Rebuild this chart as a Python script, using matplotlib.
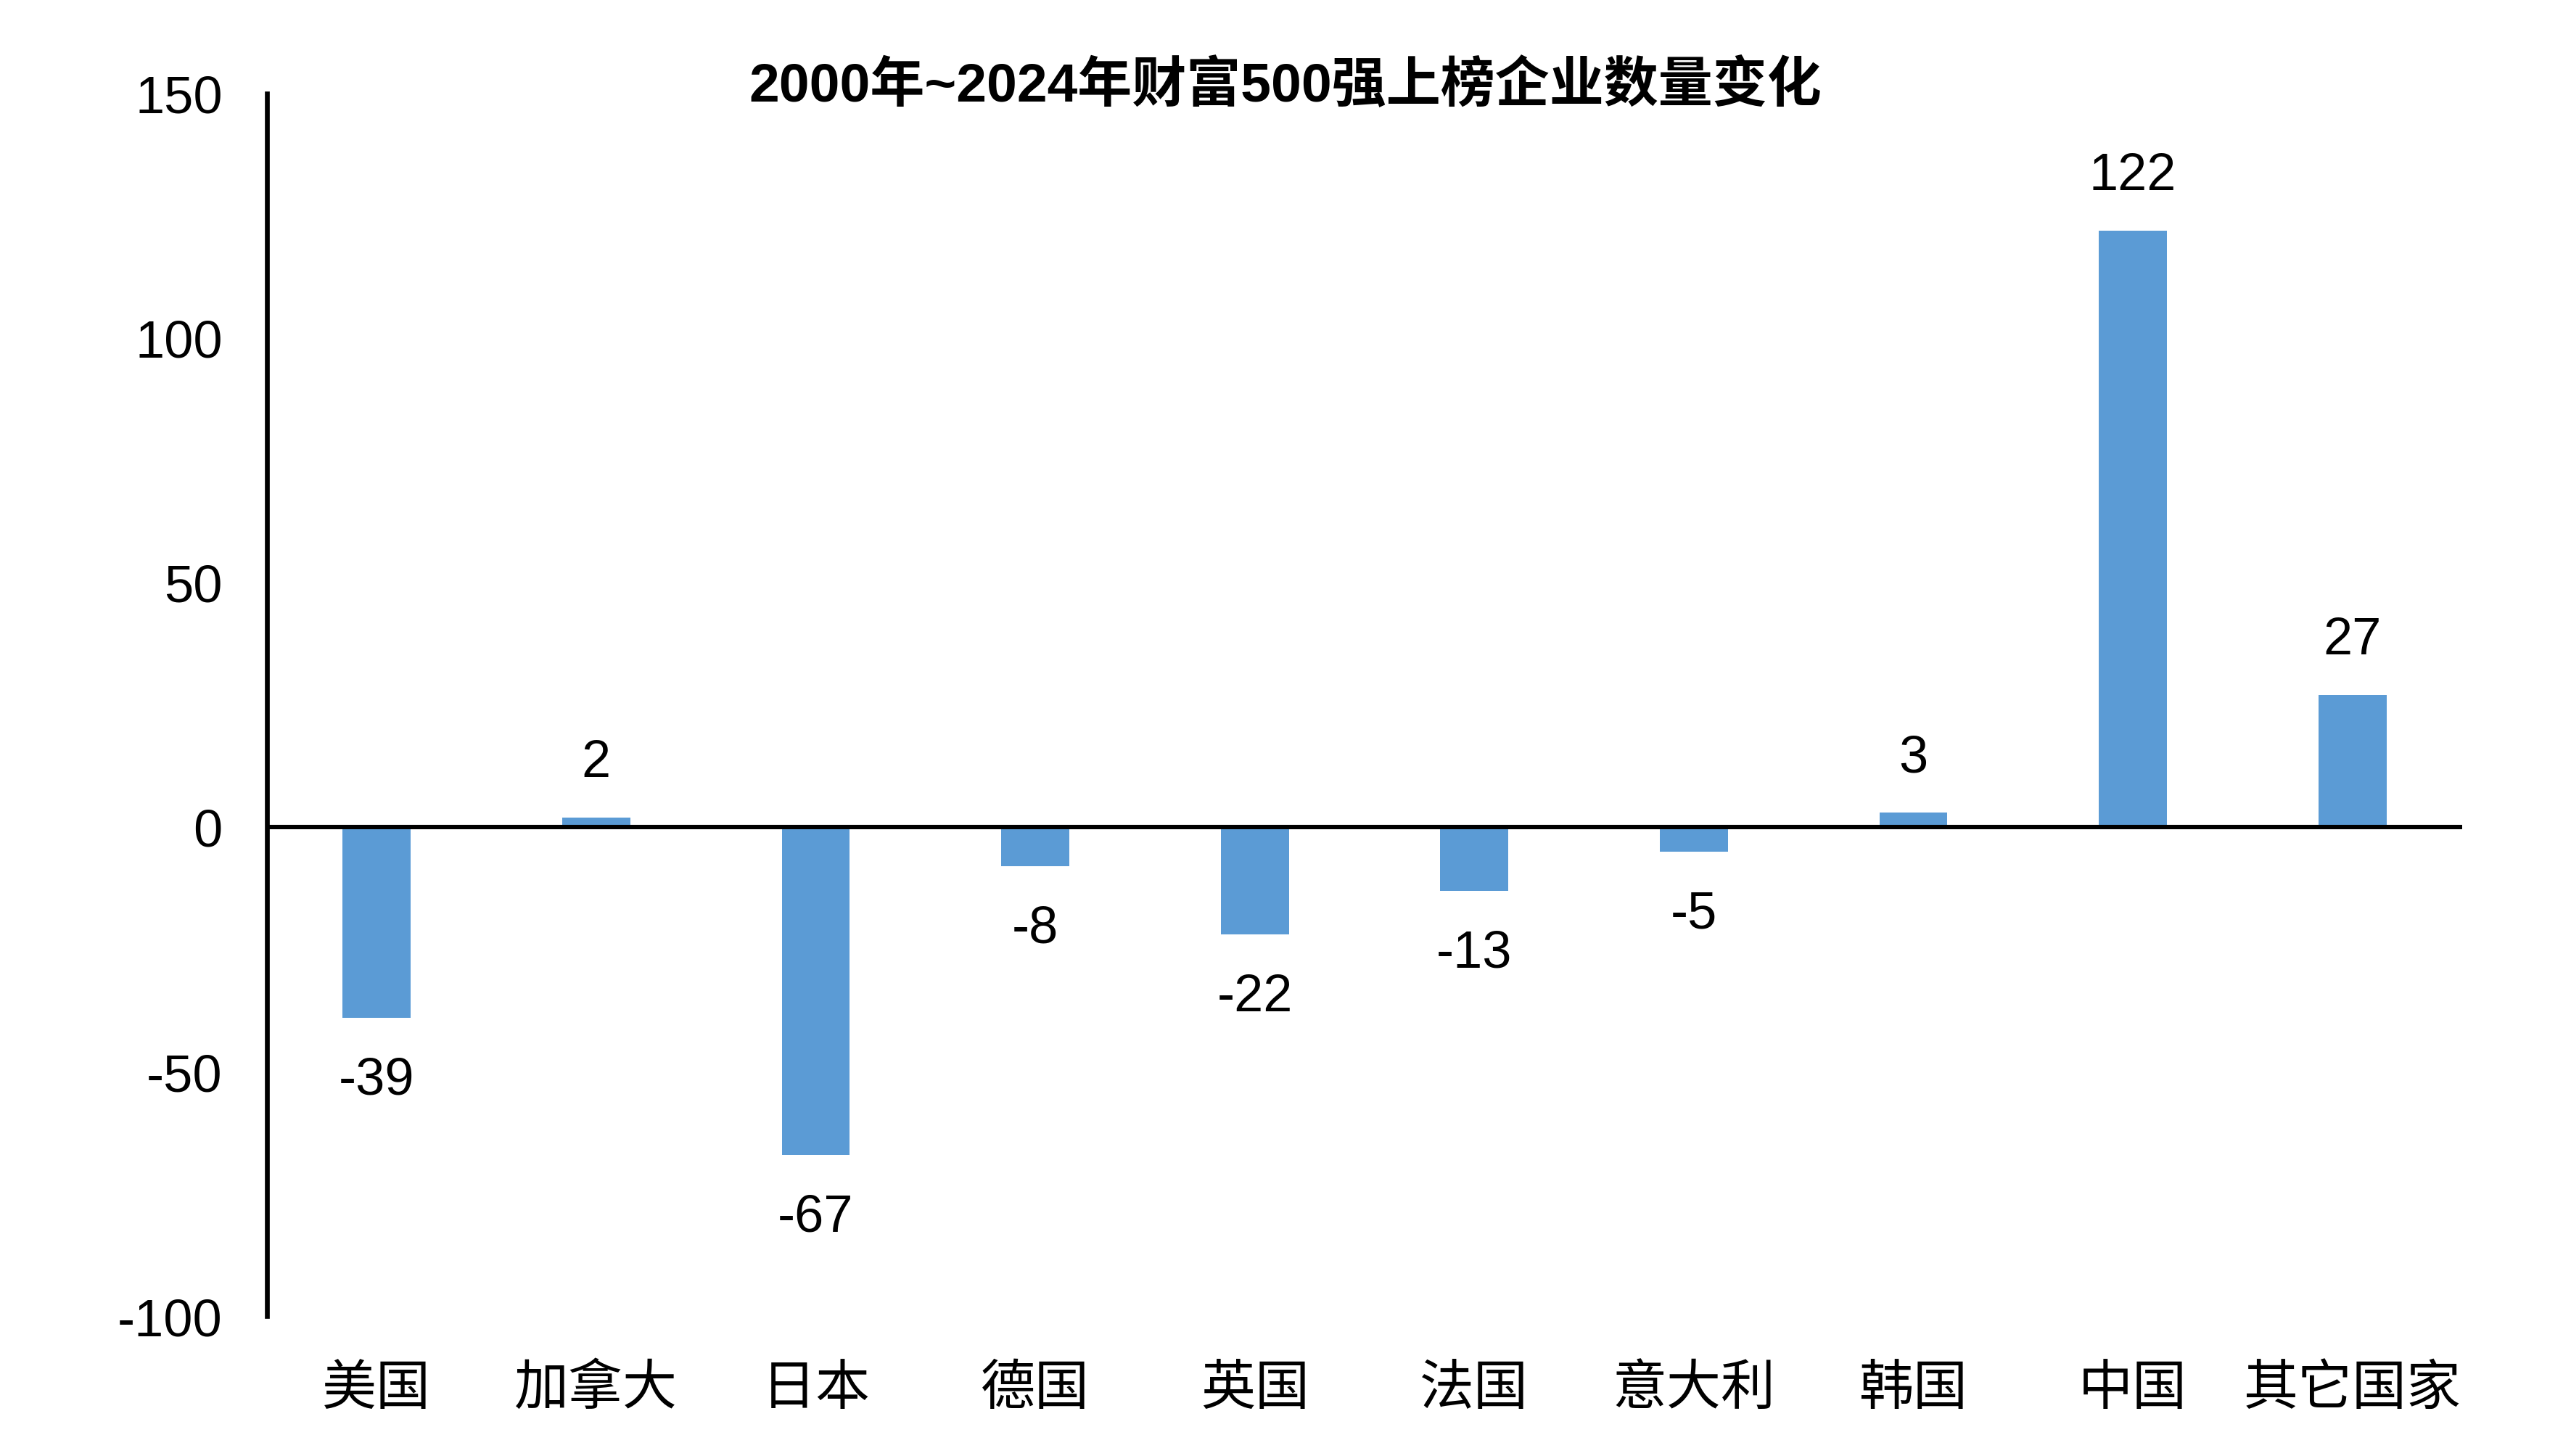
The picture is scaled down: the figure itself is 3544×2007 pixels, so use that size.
import matplotlib
matplotlib.use("Agg")
import matplotlib.pyplot as plt

# data
countries = ["美国", "加拿大", "日本", "德国", "英国", "法国", "意大利", "韩国", "中国", "其它国家"]
changes = [-39, 2, -67, -8, -22, -13, -5, 3, 122, 27]
yticks = [-100, -50, 0, 50, 100, 150]

plt.rcParams['font.family'] = ['Liberation Sans', 'Noto Sans CJK SC', 'DejaVu Sans']

fig = plt.figure(figsize=(17.72, 10.04), dpi=200)
ax = fig.add_axes([0.1038, 0.0961, 0.8539, 0.8392])

x = range(len(countries))
ax.bar(x, changes, width=0.31, color='#5B9BD5', zorder=2)
ax.axhline(0, color='black', linewidth=2.2, zorder=3)

for xi, v in zip(x, changes):
    off = 27 if v >= 0 else -31
    ax.annotate(str(v), (xi, v), xytext=(0, off), textcoords='offset points',
                ha='center', va='center', fontsize=26)

ax.set_xlim(-0.5, len(countries) - 0.5)
ax.set_ylim(-100, 150)
ax.set_yticks(yticks)
ax.set_yticklabels([str(t) for t in yticks], fontsize=26)
ax.set_xticks(list(x))
ax.set_xticklabels(countries, fontsize=27, family=['Noto Sans CJK SC'])
ax.tick_params(axis='y', length=0, pad=22)
ax.tick_params(axis='x', length=0, pad=22)

for s in ['top', 'right', 'bottom']:
    ax.spines[s].set_visible(False)
ax.spines['left'].set_linewidth(2.4)

fig.text(0.5, 0.941, "2000年~2024年财富500强上榜企业数量变化", ha='center', va='center',
         fontsize=27, fontweight='bold', family=['Liberation Sans', 'Noto Sans CJK SC'])

fig.savefig("out.png", dpi=200, facecolor='white')
